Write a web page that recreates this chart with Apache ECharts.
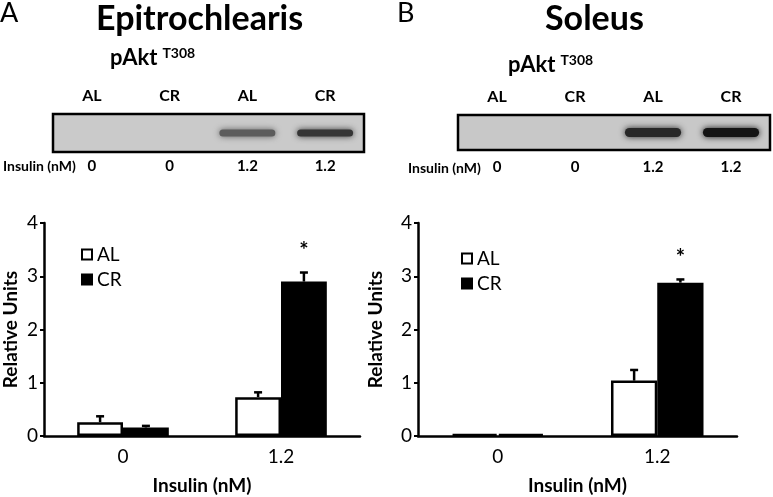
<!DOCTYPE html>
<html>
<head>
<meta charset="utf-8">
<script src="https://cdn.jsdelivr.net/npm/echarts@6/dist/echarts.min.js"></script>
<style>html,body{margin:0;padding:0;background:#fff}#c{width:773px;height:497px}</style>
</head>
<body>
<div id="c"></div>
<script>
// ---- data ----
const groups = ['0', '1.2'];
const yTicks = [0, 1, 2, 3, 4];
const epiAL = [0.26, 0.73];
const epiALerr = [0.11, 0.09];
const epiCR = [0.16, 2.90];
const epiCRerr = [0.03, 0.17];
const solAL = [0.04, 1.04];
const solALerr = [0.0, 0.20];
const solCR = [0.04, 2.88];
const solCRerr = [0.0, 0.06];
const significant = [false, true];
const laneGroups = ['AL', 'CR', 'AL', 'CR'];
const laneInsulin = ['0', '0', '1.2', '1.2'];
const epiBand = [0.45, 0.75];
const solBand = [0.85, 1.0];

const FONT = 'Lato';
const chart = echarts.init(document.getElementById('c'));

function errSeries(xi, yi, means, errs, sign, sig) {
  return {
    type: 'custom', xAxisIndex: xi, yAxisIndex: yi, z: 5, silent: true,
    data: means.map((m, i) => [i, m, errs[i], sig ? (significant[i] ? 1 : 0) : 0]),
    renderItem: function (params, api) {
      const band = api.size([1, 0])[0];
      const bw = band * 0.58 / 2;
      const base = api.coord([api.value(0), api.value(1)]);
      const top = api.coord([api.value(0), api.value(1) + api.value(2)]);
      const x = base[0] + sign * bw / 2;
      const children = [];
      if (api.value(2) > 0) {
        children.push({ type: 'line', shape: { x1: x, y1: base[1], x2: x, y2: top[1] }, style: { stroke: '#000', lineWidth: 2.5 } });
        children.push({ type: 'line', shape: { x1: x - 4, y1: top[1], x2: x + 4, y2: top[1] }, style: { stroke: '#000', lineWidth: 2.5 } });
      }
      if (api.value(3)) {
        children.push({ type: 'text', style: { text: '*', x: x, y: top[1] - 22, align: 'center', verticalAlign: 'middle', font: 'bold 22px ' + FONT, fill: '#000' } });
      }
      return { type: 'group', children: children };
    }
  };
}

// bands only in the insulin-stimulated lanes (lane index 2 and 3)
function bandSeries(xi, yi, vals, h) {
  return {
    type: 'custom', xAxisIndex: xi, yAxisIndex: yi, silent: true,
    data: vals.map((v, i) => [i + 2, 0.5, v]),
    renderItem: function (params, api) {
      const c = api.coord([api.value(0), api.value(1)]);
      const band = api.size([1, 0])[0];
      const w = band * 0.72;
      const a = api.value(2);
      if (a <= 0) return null;
      const g = Math.round(150 - 130 * a);
      const col = 'rgb(' + g + ',' + g + ',' + g + ')';
      return {
        type: 'rect',
        shape: { x: c[0] - w / 2, y: c[1] - h / 2, width: w, height: h, r: h / 2 },
        style: { fill: col, shadowBlur: 6, shadowColor: col }
      };
    }
  };
}

const valueAxisBase = (gi, gap) => ({
  type: 'value', gridIndex: gi, min: yTicks[0], max: yTicks[yTicks.length - 1], interval: 1,
  name: 'Relative Units', nameLocation: 'middle', nameGap: gap,
  nameTextStyle: { fontFamily: FONT, fontWeight: 'bold', fontSize: 19, color: '#000' },
  axisLine: { show: true, lineStyle: { color: '#000', width: 2.5 } },
  axisTick: { show: true, length: 4, lineStyle: { color: '#000', width: 2 } },
  axisLabel: { fontFamily: FONT, fontSize: 19, color: '#000', margin: 6 },
  splitLine: { show: false }
});
const catAxisBase = (gi) => ({
  type: 'category', gridIndex: gi, data: groups,
  name: 'Insulin (nM)', nameLocation: 'middle', nameGap: 40,
  nameTextStyle: { fontFamily: FONT, fontWeight: 'bold', fontSize: 19, color: '#000' },
  axisLine: { show: true, lineStyle: { color: '#000', width: 2.5 } },
  axisTick: { show: false },
  axisLabel: { fontFamily: FONT, fontSize: 19, color: '#000', margin: 11 }
});
const laneAxis = (gi, data, pos, margin) => ({
  type: 'category', gridIndex: gi, data: data, position: pos,
  axisLine: { show: false }, axisTick: { show: false },
  axisLabel: { fontFamily: FONT, fontWeight: 'bold', fontSize: pos === 'top' ? 16 : 15, color: '#000', margin: margin }
});
const hiddenY = (gi) => ({ type: 'value', gridIndex: gi, min: 0, max: 1, show: false });

const legendBase = (left, top) => ({
  left: left, top: top, orient: 'vertical', itemWidth: 10, itemHeight: 10, itemGap: 6,
  icon: 'rect', data: ['AL', 'CR'],
  textStyle: { fontFamily: FONT, fontSize: 19, color: '#000' }
});

const pAktRich = {
  m: { fontFamily: FONT, fontWeight: 'bold', fontSize: 22, color: '#000' },
  s: { fontFamily: FONT, fontWeight: 'bold', fontSize: 14, color: '#000', verticalAlign: 'top', padding: [0, 0, 10, 0] }
};

const option = {
  animation: false,
  backgroundColor: '#fff',
  title: [
    { text: 'A', left: 0, top: 0, padding: 0, textStyle: { fontFamily: FONT, fontWeight: 'normal', fontSize: 27, color: '#000' } },
    { text: 'Epitrochlearis', left: 96, top: 2, padding: 0, textStyle: { fontFamily: FONT, fontWeight: 'bold', fontSize: 34, color: '#000' } },
    { text: '{m|pAkt} {s|T308}', left: 110, top: 46, padding: 0, textStyle: { rich: pAktRich } },
    { text: 'Insulin (nM)', left: 3, top: 159, padding: 0, textStyle: { fontFamily: FONT, fontWeight: 'bold', fontSize: 14, color: '#000' } },
    { text: 'B', left: 397, top: 0, padding: 0, textStyle: { fontFamily: FONT, fontWeight: 'normal', fontSize: 27, color: '#000' } },
    { text: 'Soleus', left: 545, top: 2, padding: 0, textStyle: { fontFamily: FONT, fontWeight: 'bold', fontSize: 34, color: '#000' } },
    { text: '{m|pAkt} {s|T308}', left: 508, top: 53, padding: 0, textStyle: { rich: pAktRich } },
    { text: 'Insulin (nM)', left: 408, top: 161, padding: 0, textStyle: { fontFamily: FONT, fontWeight: 'bold', fontSize: 14, color: '#000' } }
  ],
  legend: [legendBase(76, 240), legendBase(456, 244)],
  grid: [
    { left: 40, top: 223, width: 320, height: 213 },
    { left: 418, top: 223, width: 319, height: 213 },
    { left: 53, top: 114, width: 311, height: 38, show: true, backgroundColor: '#cacaca', borderColor: '#000', borderWidth: 2.5 },
    { left: 458, top: 115, width: 312, height: 35, show: true, backgroundColor: '#c8c8c8', borderColor: '#000', borderWidth: 2.5 }
  ],
  xAxis: [
    catAxisBase(0), catAxisBase(1),
    laneAxis(2, laneGroups, 'top', 10), laneAxis(2, laneInsulin, 'bottom', 7),
    laneAxis(3, laneGroups, 'top', 10), laneAxis(3, laneInsulin, 'bottom', 10)
  ],
  yAxis: [valueAxisBase(0, 24), valueAxisBase(1, 33), hiddenY(2), hiddenY(3)],
  series: [
    { name: 'AL', type: 'bar', xAxisIndex: 0, yAxisIndex: 0, data: epiAL, barGap: '0%', barCategoryGap: '42%', itemStyle: { color: '#fff', borderColor: '#000', borderWidth: 2.5 } },
    { name: 'CR', type: 'bar', xAxisIndex: 0, yAxisIndex: 0, data: epiCR, barGap: '0%', barCategoryGap: '42%', itemStyle: { color: '#000', borderColor: '#000', borderWidth: 2.5 } },
    { name: 'AL', type: 'bar', xAxisIndex: 1, yAxisIndex: 1, data: solAL, barGap: '0%', barCategoryGap: '42%', itemStyle: { color: '#fff', borderColor: '#000', borderWidth: 2.5 } },
    { name: 'CR', type: 'bar', xAxisIndex: 1, yAxisIndex: 1, data: solCR, barGap: '0%', barCategoryGap: '42%', itemStyle: { color: '#000', borderColor: '#000', borderWidth: 2.5 } },
    errSeries(0, 0, epiAL, epiALerr, -1, false),
    errSeries(0, 0, epiCR, epiCRerr, 1, true),
    errSeries(1, 1, solAL, solALerr, -1, false),
    errSeries(1, 1, solCR, solCRerr, 1, true),
    bandSeries(2, 2, epiBand, 7),
    bandSeries(4, 3, solBand, 9)
  ]
};
chart.setOption(option);
</script>
</body>
</html>
